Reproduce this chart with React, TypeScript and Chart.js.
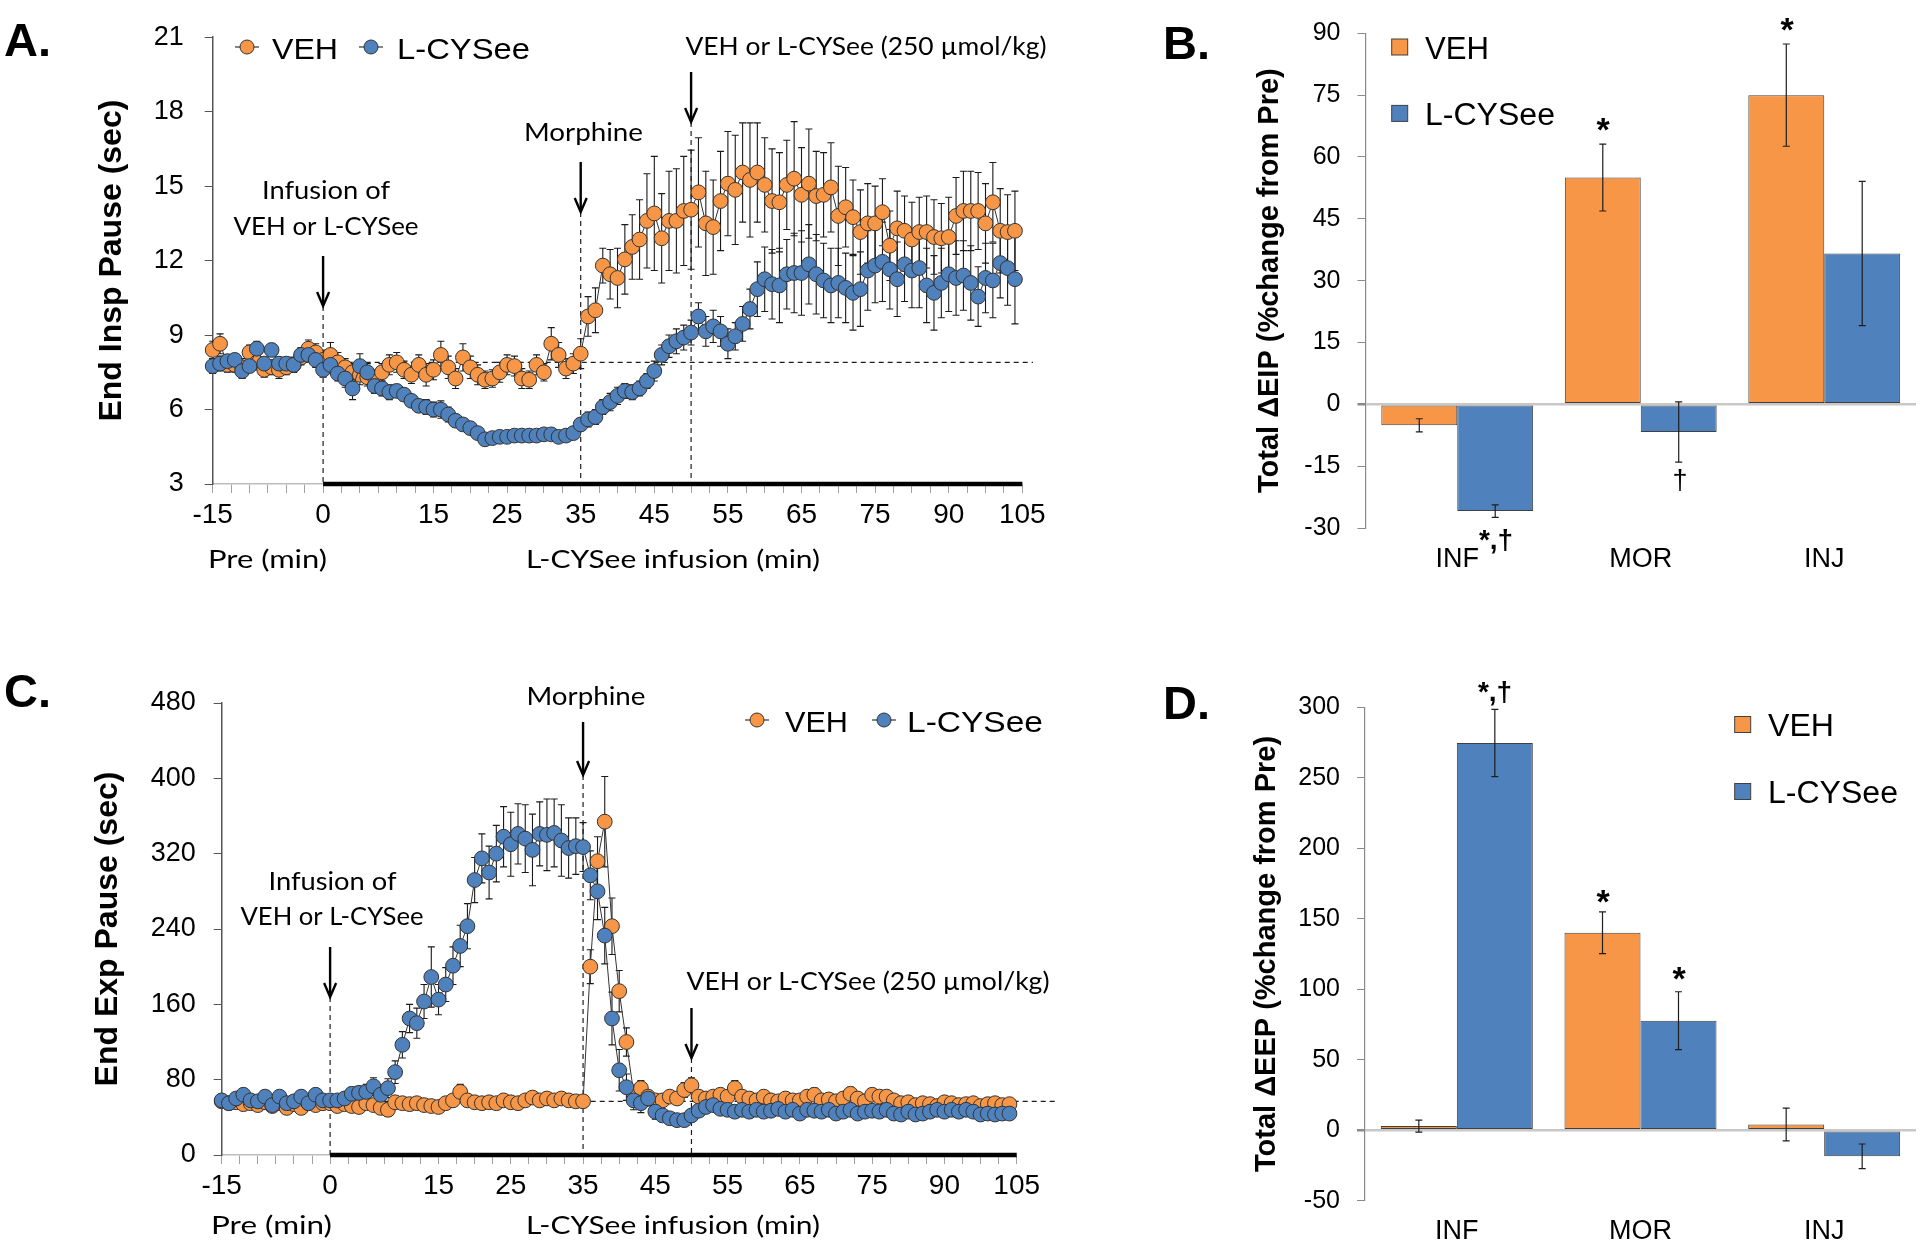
import React, { useEffect, useRef } from 'react';
import { Chart, registerables } from 'chart.js';

Chart.register(...registerables);

const ORANGE = '#F79646';
const BLUE = '#4F81BD';
const SANS = '"Liberation Sans", Arial, Helvetica, sans-serif';
const CAL = 'Lato, "Open Sans", "Liberation Sans", sans-serif';

// ---------- time-course data (panels A and C), one value per minute ----------
const MINUTES = [
  -15, -14, -13, -12, -11, -10, -9, -8, -7, -6, -5, -4, -3, -2, -1,
  0, 1, 2, 3, 4, 5, 6, 7, 8, 9,
  10, 11, 12, 13, 14, 15, 16, 17, 18, 19,
  20, 21, 22, 23, 24, 25, 26, 27, 28, 29,
  30, 31, 32, 33, 34, 35, 36, 37, 38, 39,
  40, 41, 42, 43, 44, 45, 46, 47, 48, 49,
  50, 51, 52, 53, 54, 55, 56, 57, 58, 59,
  60, 61, 62, 63, 64, 65, 66, 67, 68, 69,
  70, 71, 72, 73, 74, 75, 76, 77, 78, 79,
  80, 81, 82, 83, 84, 85, 86, 87, 88, 89,
  90, 91, 92, 93, 94,
];
const TIME_TICK_VALUES = [-15, 0, 15, 25, 35, 45, 55, 65, 75, 85, 95];
const TIME_TICK_LABELS = ['-15', '0', '15', '25', '35', '45', '55', '65', '75', '90', '105'];

// Panel A: End Insp Pause (sec)
const A_VEH = [
  8.4, 8.65, 7.8, 7.8, 7.7, 8.3, 7.9, 7.6, 7.7, 7.6, 7.7, 7.8, 8.1, 8.45, 8.3,
  8.0, 8.2, 7.9, 7.7, 7.5, 7.4, 7.3, 7.3, 7.5, 7.8,
  7.9, 7.6, 7.4, 7.8, 7.4, 7.6, 8.2, 7.7, 7.25, 8.1,
  7.7, 7.4, 7.2, 7.25, 7.5, 7.8, 7.75, 7.25, 7.2, 7.8,
  7.5, 8.65, 8.2, 7.65, 7.85, 8.25, 9.75, 10.0, 11.8, 11.45,
  11.3, 12.05, 12.55, 12.85, 13.6, 13.9, 12.9, 13.6, 13.6, 14.0,
  14.05, 14.75, 13.5, 13.35, 14.4, 15.1, 14.85, 15.55, 15.25, 15.55,
  15.05, 14.4, 14.35, 15.05, 15.3, 14.65, 15.1, 14.6, 14.65, 14.95,
  13.8, 14.15, 13.75, 13.15, 13.5, 13.5, 13.95, 12.6, 13.3, 13.2,
  12.85, 13.15, 13.15, 12.95, 12.9, 12.95, 13.8, 14.0, 14.0, 14.0,
  13.5, 14.35, 13.2, 13.15, 13.2,
];
const A_VEH_ERR = [
  0.35, 0.4, 0.3, 0.3, 0.35, 0.3, 0.3, 0.3, 0.3, 0.35, 0.3, 0.3, 0.3, 0.35, 0.35,
  0.4, 0.5, 0.4, 0.35, 0.35, 0.4, 0.35, 0.3, 0.35, 0.4,
  0.4, 0.35, 0.35, 0.4, 0.45, 0.4, 0.55, 0.45, 0.4, 0.55,
  0.45, 0.4, 0.35, 0.35, 0.4, 0.4, 0.4, 0.4, 0.35, 0.4,
  0.35, 0.65, 0.5, 0.4, 0.4, 0.6, 0.8, 0.9, 0.7, 1.0,
  1.2, 1.4, 1.3, 1.6, 1.9, 2.3, 1.8, 2.0, 2.1, 2.2,
  2.4, 2.2, 2.1, 1.9, 2.0, 2.1, 2.2, 2.0, 2.3, 2.0,
  1.9, 2.1, 2.0, 1.8, 2.3, 1.9, 2.2, 1.8, 1.7, 1.8,
  2.0, 1.6, 1.5, 1.7, 1.6, 1.5, 1.35, 1.4, 1.5, 1.4,
  1.5, 1.4, 1.45, 1.5, 1.4, 1.6, 1.55, 1.6, 1.6, 1.55,
  1.6, 1.6, 1.7, 1.5, 1.6,
];
const A_CYS = [
  7.75, 7.85, 7.95, 8.0, 7.55, 7.75, 8.45, 7.85, 8.4, 7.85, 7.85, 7.8, 8.2, 8.2, 8.0,
  7.6, 7.8, 7.45, 7.25, 6.85, 7.75, 7.5, 6.95, 6.85, 6.7,
  6.75, 6.6, 6.35, 6.15, 6.1, 6.0, 6.0, 5.8, 5.55, 5.4,
  5.25, 5.05, 4.8, 4.85, 4.9, 4.9, 4.95, 4.95, 4.95, 4.95,
  5.0, 5.0, 4.9, 4.95, 5.05, 5.4, 5.6, 5.7, 6.1, 6.3,
  6.55, 6.75, 6.7, 6.85, 7.15, 7.55, 8.2, 8.55, 8.75, 8.9,
  9.1, 9.75, 9.15, 9.35, 9.15, 8.65, 8.95, 9.45, 10.05, 10.85,
  11.25, 11.05, 11.0, 11.45, 11.5, 11.5, 11.85, 11.45, 11.2, 11.0,
  11.1, 10.9, 10.7, 10.85, 11.6, 11.8, 11.95, 11.65, 11.25, 11.85,
  11.6, 11.7, 11.0, 10.7, 11.1, 11.45, 11.3, 11.4, 11.1, 10.55,
  11.3, 11.2, 11.9, 11.7, 11.25,
];
const A_CYS_ERR = [
  0.3, 0.3, 0.25, 0.25, 0.3, 0.25, 0.3, 0.25, 0.25, 0.25, 0.25, 0.3, 0.3, 0.3, 0.3,
  0.3, 0.35, 0.3, 0.35, 0.45, 0.5, 0.35, 0.3, 0.3, 0.3,
  0.25, 0.25, 0.25, 0.25, 0.3, 0.3, 0.35, 0.3, 0.25, 0.2,
  0.2, 0.2, 0.2, 0.2, 0.2, 0.2, 0.2, 0.2, 0.2, 0.2,
  0.2, 0.2, 0.2, 0.2, 0.25, 0.25, 0.3, 0.3, 0.3, 0.35,
  0.35, 0.3, 0.3, 0.3, 0.3, 0.4, 0.4, 0.45, 0.5, 0.5,
  0.5, 0.55, 0.6, 0.65, 0.6, 0.6, 0.55, 0.7, 0.8, 1.1,
  1.3, 1.4, 1.5, 1.4, 1.6, 1.7, 1.6, 1.6, 1.5, 1.5,
  1.4, 1.4, 1.5, 1.5, 1.6, 1.5, 1.6, 1.6, 1.5, 1.5,
  1.5, 1.6, 1.5, 1.5, 1.4, 1.5, 1.5, 1.4, 1.5, 1.2,
  1.4, 1.5, 1.4, 1.5, 1.8,
];

// Panel C: End Exp Pause (sec)
const C_VEH = [
  57, 55, 56, 54, 55, 53, 56, 52, 55, 50, 54, 50, 55, 53, 55,
  55, 52, 54, 52, 51, 55, 53, 50, 48, 56,
  55, 54, 55, 53, 52, 51, 55, 58, 67, 58,
  56, 55, 56, 55, 58, 56, 55, 58, 61, 58,
  60, 58, 60, 58, 57, 57, 200, 312, 354, 243,
  174, 120, 66, 71, 62, 58, 58, 62, 60, 69,
  74, 62, 60, 62, 64, 62, 71, 62, 60, 58,
  62, 58, 57, 60, 58, 58, 62, 64, 58, 59,
  57, 60, 65, 60, 57, 64, 62, 62, 58, 55,
  56, 53, 55, 54, 52, 56, 55, 53, 54, 55,
  52, 54, 55, 53, 54,
];
const C_VEH_ERR = [
  6, 5, 5, 6, 5, 5, 6, 5, 5, 6, 5, 5, 6, 5, 5,
  5, 5, 5, 6, 5, 5, 5, 6, 7, 5,
  5, 5, 5, 5, 5, 5, 5, 6, 8, 6,
  5, 5, 5, 5, 5, 5, 5, 5, 6, 5,
  5, 5, 5, 5, 5, 5, 18, 26, 48, 30,
  22, 15, 8, 8, 6, 6, 6, 6, 6, 8,
  8, 6, 6, 6, 6, 6, 8, 6, 6, 6,
  6, 6, 5, 6, 5, 5, 6, 7, 5, 5,
  5, 5, 7, 5, 5, 6, 5, 6, 5, 5,
  5, 5, 5, 5, 5, 5, 5, 5, 5, 5,
  5, 5, 5, 5, 5,
];
const C_CYS = [
  58, 55, 60, 64, 58, 57, 62, 53, 62, 55, 57, 62, 55, 64, 58,
  58, 58, 60, 65, 66, 67, 73, 64, 71, 88,
  117, 145, 140, 163, 189, 165, 181, 201, 222, 243,
  292, 315, 300, 320, 338, 330, 341, 336, 324, 341,
  340, 342, 334, 326, 328, 327, 297, 280, 233, 145,
  90, 72, 58, 55, 60, 46, 42, 39, 37, 37,
  42, 47, 51, 53, 49, 48, 46, 48, 46, 48,
  46, 47, 49, 46, 48, 44, 48, 47, 46, 48,
  44, 46, 48, 44, 46, 47, 46, 48, 44, 43,
  46, 43, 44, 46, 48, 46, 48, 46, 48, 46,
  43, 44, 43, 44, 44,
];
const C_CYS_ERR = [
  6, 5, 6, 6, 5, 5, 6, 5, 6, 5, 5, 6, 5, 6, 6,
  6, 6, 6, 7, 7, 8, 9, 8, 10, 12,
  14, 15, 16, 18, 32, 16, 18, 20, 22, 24,
  24, 26, 28, 30, 32, 34, 32, 36, 38, 34,
  38, 36, 38, 32, 30, 26, 26, 30, 30, 28,
  22, 14, 10, 10, 8, 8, 6, 6, 6, 6,
  6, 6, 6, 6, 5, 5, 5, 5, 5, 5,
  5, 5, 5, 5, 5, 5, 5, 5, 5, 5,
  5, 5, 5, 5, 5, 5, 5, 5, 5, 5,
  5, 5, 5, 5, 5, 5, 5, 5, 5, 5,
  5, 5, 5, 5, 5,
];

// ---------- summary bar data (panels B and D) ----------
const GROUPS = ['INF', 'MOR', 'INJ'];
const B_VEH = [-5.1, 55.0, 75.0];
const B_VEH_ERR = [1.6, 8.1, 12.4];
const B_CYS = [-25.9, -6.7, 36.6];
const B_CYS_ERR = [1.5, 7.3, 17.5];
const D_VEH = [2.9, 140.0, 4.1];
const D_VEH_ERR = [4.3, 14.8, 11.6];
const D_CYS = [274.6, 77.7, -18.5];
const D_CYS_ERR = [23.8, 20.5, 8.7];

// ---------- drawing helpers ----------
function drawText(ctx: any, t: any) {
  ctx.save();
  ctx.font = `${t.weight || 'normal'} ${t.size}px ${t.family}`;
  ctx.fillStyle = '#000';
  ctx.textBaseline = 'middle';
  ctx.textAlign = t.align || 'center';
  const w = ctx.measureText(t.text).width;
  const sx = t.width ? t.width / w : 1;
  ctx.translate(t.x, t.y);
  ctx.scale(sx, 1);
  ctx.fillText(t.text, 0, 0);
  ctx.restore();
}

function drawArrow(ctx: any, x: number, top: number, tip: number) {
  ctx.save();
  ctx.strokeStyle = '#000';
  ctx.lineWidth = 2.4;
  ctx.beginPath();
  ctx.moveTo(x, top);
  ctx.lineTo(x, tip - 1);
  ctx.stroke();
  ctx.beginPath();
  ctx.moveTo(x - 6, tip - 14);
  ctx.lineTo(x, tip);
  ctx.lineTo(x + 6, tip - 14);
  ctx.stroke();
  ctx.restore();
}

function drawLineMarker(ctx: any, cx: number, cy: number, color: string) {
  ctx.save();
  ctx.strokeStyle = '#333';
  ctx.lineWidth = 1.2;
  ctx.beginPath();
  ctx.moveTo(cx - 12, cy);
  ctx.lineTo(cx + 12, cy);
  ctx.stroke();
  ctx.beginPath();
  ctx.arc(cx, cy, 7, 0, Math.PI * 2);
  ctx.fillStyle = color;
  ctx.fill();
  ctx.lineWidth = 1;
  ctx.stroke();
  ctx.restore();
}

function timePlugin(p: any) {
  return {
    id: 'timeDecor',
    beforeDatasetsDraw(chart: any) {
      const { ctx, chartArea: a, scales } = chart;
      const x = scales.x;
      const y = scales.y;
      ctx.save();
      ctx.strokeStyle = '#1e1e1e';
      ctx.lineWidth = 1.2;
      ctx.setLineDash([5, 4]);
      const by = y.getPixelForValue(p.baseline);
      ctx.beginPath();
      ctx.moveTo(a.left, by);
      ctx.lineTo(p.baselineEnd, by);
      ctx.stroke();
      p.arrows.forEach((ar: any) => {
        const px = x.getPixelForValue(ar.minute);
        ctx.beginPath();
        ctx.moveTo(px, ar.tip);
        ctx.lineTo(px, a.bottom);
        ctx.stroke();
      });
      ctx.setLineDash([]);
      ctx.lineWidth = 1.1;
      ctx.strokeStyle = '#1a1a1a';
      const series = [[p.veh, p.vehErr], [p.cys, p.cysErr]];
      series.forEach((s: any) => {
        const vals = s[0];
        const errs = s[1];
        vals.forEach((v: number, i: number) => {
          const px = x.getPixelForValue(MINUTES[i]);
          const t = y.getPixelForValue(v + errs[i]);
          const b = y.getPixelForValue(v - errs[i]);
          ctx.beginPath();
          ctx.moveTo(px, t);
          ctx.lineTo(px, b);
          ctx.moveTo(px - 3.5, t);
          ctx.lineTo(px + 3.5, t);
          ctx.moveTo(px - 3.5, b);
          ctx.lineTo(px + 3.5, b);
          ctx.stroke();
        });
      });
      ctx.restore();
    },
    afterDraw(chart: any) {
      const { ctx, chartArea: a, scales } = chart;
      const x = scales.x;
      ctx.save();
      ctx.strokeStyle = '#000';
      ctx.lineWidth = 4.5;
      ctx.beginPath();
      ctx.moveTo(x.getPixelForValue(0), a.bottom);
      ctx.lineTo(x.getPixelForValue(95), a.bottom);
      ctx.stroke();
      ctx.restore();
      p.arrows.forEach((ar: any) => drawArrow(ctx, x.getPixelForValue(ar.minute), ar.top, ar.tip));
      p.texts.forEach((t: any) => drawText(ctx, t));
      const L = p.legend;
      drawLineMarker(ctx, L.vehMarkerX, L.markerY, ORANGE);
      drawLineMarker(ctx, L.cysMarkerX, L.markerY, BLUE);
      drawText(ctx, { text: 'VEH', x: L.vehTextX, y: L.textY, size: L.size, width: L.vehTextW, family: SANS, align: 'left' });
      drawText(ctx, { text: 'L-CYSee', x: L.cysTextX, y: L.textY, size: L.size, width: L.cysTextW, family: SANS, align: 'left' });
    },
  };
}

function timeConfig(p: any): any {
  const c = p.canvas;
  const a = p.area;
  const ds = (label: string, vals: number[], color: string, order: number) => ({
    label,
    data: MINUTES.map((m, i) => ({ x: m, y: vals[i] })),
    order,
    borderColor: '#333',
    borderWidth: 1,
    pointBackgroundColor: color,
    pointBorderColor: '#333',
    pointBorderWidth: 1,
    pointRadius: 7.4,
    pointHoverRadius: 7.4,
    tension: 0,
    clip: false,
  });
  return {
    type: 'line',
    data: { datasets: [ds('VEH', p.veh, ORANGE, 2), ds('L-CYSee', p.cys, BLUE, 1)] },
    options: {
      responsive: false,
      animation: false,
      devicePixelRatio: 1,
      events: [],
      layout: { padding: { left: 0, top: a.top, right: c.width - a.right, bottom: 0 } },
      plugins: { legend: { display: false }, tooltip: { enabled: false } },
      scales: {
        x: {
          type: 'linear',
          min: -15,
          max: 95,
          afterFit: (s: any) => { s.height = c.height - a.bottom; },
          grid: { drawOnChartArea: false, tickLength: 9, tickColor: '#a0a0a0', lineWidth: 1 },
          border: { color: '#bdbdbd', width: 1.5 },
          ticks: {
            stepSize: 2.5,
            autoSkip: false,
            maxRotation: 0,
            minRotation: 0,
            padding: 5,
            color: '#000',
            font: { family: SANS, size: 28 },
            callback: (v: number) => {
              const k = TIME_TICK_VALUES.findIndex((t) => Math.abs(t - v) < 1e-6);
              return k >= 0 ? TIME_TICK_LABELS[k] : '';
            },
          },
        },
        y: {
          min: p.yMin,
          max: p.yMax,
          afterFit: (s: any) => { s.width = a.left; },
          grid: { drawOnChartArea: false, tickLength: 8, tickColor: '#555' },
          border: { color: '#555', width: 1.5 },
          ticks: { stepSize: p.yStep, padding: p.yTickPad, color: '#000', font: { family: SANS, size: 27 } },
          title: {
            display: true,
            text: p.yTitle,
            color: '#000',
            font: { family: SANS, size: 32, weight: 'bold' },
            padding: { top: p.yTitleCenterX - 19.2, bottom: 0 },
          },
        },
      },
    },
    plugins: [timePlugin(p)],
  };
}

function barPlugin(p: any) {
  return {
    id: 'barDecor',
    afterDatasetsDraw(chart: any) {
      const { ctx, scales } = chart;
      const y = scales.y;
      ctx.save();
      ctx.strokeStyle = '#1e1e1e';
      ctx.lineWidth = 1.2;
      const sets = [[0, p.veh, p.vehErr], [1, p.cys, p.cysErr]];
      sets.forEach((s: any) => {
        const meta = chart.getDatasetMeta(s[0]);
        s[1].forEach((v: number, i: number) => {
          const px = meta.data[i].x;
          const t = y.getPixelForValue(v + s[2][i]);
          const b = y.getPixelForValue(v - s[2][i]);
          ctx.beginPath();
          ctx.moveTo(px, t);
          ctx.lineTo(px, b);
          ctx.moveTo(px - 3.5, t);
          ctx.lineTo(px + 3.5, t);
          ctx.moveTo(px - 3.5, b);
          ctx.lineTo(px + 3.5, b);
          ctx.stroke();
        });
      });
      ctx.restore();
      p.marks.forEach((t: any) => drawText(ctx, t));
      const L = p.legend;
      [[ORANGE, 'VEH', L.y1, L.w1], [BLUE, 'L-CYSee', L.y2, L.w2]].forEach((it: any) => {
        ctx.save();
        ctx.fillStyle = it[0];
        ctx.strokeStyle = '#404040';
        ctx.lineWidth = 1;
        ctx.fillRect(L.sqX - 8, it[2] - 8, 16, 16);
        ctx.strokeRect(L.sqX - 8, it[2] - 8, 16, 16);
        ctx.restore();
        drawText(ctx, { text: it[1], x: L.textX, y: it[2] + L.textDy, size: 31, width: it[3], family: SANS, align: 'left' });
      });
      drawText(ctx, p.letter);
    },
  };
}

function barConfig(p: any): any {
  const c = p.canvas;
  const a = p.area;
  const ds = (label: string, vals: number[], color: string) => ({
    label,
    data: vals,
    backgroundColor: color,
    borderColor: '#404040',
    borderWidth: 1,
    borderSkipped: false,
    categoryPercentage: 0.8275,
    barPercentage: 1,
  });
  return {
    type: 'bar',
    data: { labels: GROUPS, datasets: [ds('VEH', p.veh, ORANGE), ds('L-CYSee', p.cys, BLUE)] },
    options: {
      responsive: false,
      animation: false,
      devicePixelRatio: 1,
      events: [],
      layout: { padding: { left: 0, top: a.top, right: c.width - a.right, bottom: 0 } },
      plugins: { legend: { display: false }, tooltip: { enabled: false } },
      scales: {
        x: {
          afterFit: (s: any) => { s.height = c.height - a.bottom; },
          grid: { display: false },
          border: { display: false },
          ticks: { padding: 7, color: '#000', font: { family: SANS, size: 27 } },
        },
        y: {
          min: p.yMin,
          max: p.yMax,
          afterFit: (s: any) => { s.width = a.left; },
          grid: {
            color: (cx: any) => (cx.tick && cx.tick.value === 0 ? '#c8c8c8' : 'rgba(0,0,0,0)'),
            lineWidth: (cx: any) => (cx.tick && cx.tick.value === 0 ? 2.5 : 1),
            tickColor: '#8a8a8a',
            tickLength: 8,
          },
          border: { color: '#8a8a8a', width: 1.2 },
          ticks: { stepSize: p.yStep, padding: 17, color: '#000', font: { family: SANS, size: 25 } },
          title: {
            display: true,
            text: p.yTitle,
            color: '#000',
            font: { family: SANS, size: 29, weight: 'bold' },
            padding: { top: p.yTitleCenterX - 17.4, bottom: 0 },
          },
        },
      },
    },
    plugins: [barPlugin(p)],
  };
}

// ---------- panel layouts ----------
const PANEL_A = {
  canvas: { left: 0, top: 0, width: 1070, height: 600 },
  area: { left: 212.7, right: 1022.3, top: 29, bottom: 484 },
  veh: A_VEH, vehErr: A_VEH_ERR, cys: A_CYS, cysErr: A_CYS_ERR,
  yMin: 3, yMax: 21, yStep: 3, yTickPad: 21,
  yTitle: 'End Insp Pause (sec)', yTitleCenterX: 112,
  baseline: 7.9, baselineEnd: 1033,
  arrows: [
    { minute: 0, top: 256, tip: 306 },
    { minute: 35, top: 162, tip: 212 },
    { minute: 50, top: 72, tip: 122 },
  ],
  texts: [
    { text: 'Infusion of', x: 326, y: 191, size: 25, width: 128, family: CAL },
    { text: 'VEH or L-CYSee', x: 326, y: 227, size: 25, width: 185, family: CAL },
    { text: 'Morphine', x: 583.5, y: 133, size: 25, width: 119, family: CAL },
    { text: 'VEH or L-CYSee (250 \u00b5mol/kg)', x: 866, y: 47, size: 25, width: 361, family: CAL },
    { text: 'Pre (min)', x: 208, y: 560, size: 25, width: 119, family: CAL, align: 'left' },
    { text: 'L-CYSee infusion (min)', x: 673, y: 560, size: 25, width: 294, family: CAL },
    { text: 'A.', x: 4, y: 43, size: 47, family: SANS, weight: 'bold', align: 'left' },
  ],
  legend: { markerY: 47, textY: 51, size: 30, vehMarkerX: 247, vehTextX: 272, vehTextW: 66, cysMarkerX: 371, cysTextX: 397, cysTextW: 133 },
};

const PANEL_C = {
  canvas: { left: 0, top: 640, width: 1070, height: 609 },
  area: { left: 221.7, right: 1016.7, top: 63, bottom: 515 },
  veh: C_VEH, vehErr: C_VEH_ERR, cys: C_CYS, cysErr: C_CYS_ERR,
  yMin: 0, yMax: 480, yStep: 80, yTickPad: 18,
  yTitle: 'End Exp Pause (sec)', yTitleCenterX: 108,
  baseline: 57, baselineEnd: 1057,
  arrows: [
    { minute: 0, top: 307, tip: 357 },
    { minute: 35, top: 82, tip: 135 },
    { minute: 50, top: 368, tip: 418 },
  ],
  texts: [
    { text: 'Morphine', x: 586, y: 57, size: 25, width: 119, family: CAL },
    { text: 'Infusion of', x: 332.5, y: 242, size: 25, width: 128, family: CAL },
    { text: 'VEH or L-CYSee', x: 332, y: 277, size: 25, width: 183, family: CAL },
    { text: 'VEH or L-CYSee (250 \u00b5mol/kg)', x: 868, y: 342, size: 25, width: 363, family: CAL },
    { text: 'Pre (min)', x: 211, y: 586, size: 25, width: 121, family: CAL, align: 'left' },
    { text: 'L-CYSee infusion (min)', x: 673, y: 586, size: 25, width: 294, family: CAL },
    { text: 'C.', x: 4, y: 54, size: 47, family: SANS, weight: 'bold', align: 'left' },
  ],
  legend: { markerY: 80, textY: 84, size: 30, vehMarkerX: 757, vehTextX: 785, vehTextW: 63, cysMarkerX: 884, cysTextX: 907, cysTextW: 136 },
};

const PANEL_B = {
  canvas: { left: 1150, top: 0, width: 770, height: 600 },
  area: { left: 215.5, right: 766, top: 33.3, bottom: 528 },
  veh: B_VEH, vehErr: B_VEH_ERR, cys: B_CYS, cysErr: B_CYS_ERR,
  yMin: -30, yMax: 90, yStep: 15,
  yTitle: 'Total \u0394EIP (%change from Pre)', yTitleCenterX: 119.7,
  marks: [
    { text: '*', x: 453, y: 132, size: 34, family: SANS, weight: 'bold' },
    { text: '*', x: 637, y: 32, size: 34, family: SANS, weight: 'bold' },
    { text: '\u2020', x: 530, y: 482, size: 27, family: SANS },
    { text: '*,\u2020', x: 346, y: 541, size: 28, family: SANS, weight: 'bold' },
  ],
  legend: { sqX: 249.7, y1: 47, y2: 113.4, textX: 275, textDy: 3, w1: 64, w2: 130 },
  letter: { text: 'B.', x: 13, y: 46, size: 47, family: SANS, weight: 'bold', align: 'left' },
};

const PANEL_D = {
  canvas: { left: 1150, top: 640, width: 770, height: 609 },
  area: { left: 215, right: 766, top: 67.2, bottom: 560.7 },
  veh: D_VEH, vehErr: D_VEH_ERR, cys: D_CYS, cysErr: D_CYS_ERR,
  yMin: -50, yMax: 300, yStep: 50,
  yTitle: 'Total \u0394EEP (%change from Pre)', yTitleCenterX: 117,
  marks: [
    { text: '*,\u2020', x: 345, y: 53, size: 28, family: SANS, weight: 'bold' },
    { text: '*', x: 453, y: 264, size: 34, family: SANS, weight: 'bold' },
    { text: '*', x: 529, y: 341, size: 34, family: SANS, weight: 'bold' },
  ],
  legend: { sqX: 592.7, y1: 84.5, y2: 151.5, textX: 618, textDy: 2.5, w1: 66, w2: 130 },
  letter: { text: 'D.', x: 13, y: 66, size: 47, family: SANS, weight: 'bold', align: 'left' },
};

function ChartBox({ panel, make }: any) {
  const ref = useRef<HTMLCanvasElement>(null);
  useEffect(() => {
    const chart = new Chart(ref.current as HTMLCanvasElement, make(panel));
    return () => chart.destroy();
  }, []);
  const c = panel.canvas;
  return (
    <canvas
      ref={ref}
      width={c.width}
      height={c.height}
      style={{ position: 'absolute', left: c.left, top: c.top, width: c.width, height: c.height }}
    />
  );
}

export default function App() {
  return (
    <div style={{ position: 'absolute', left: 0, top: 0, width: 1920, height: 1249, background: '#fff', overflow: 'hidden' }}>
      <ChartBox panel={PANEL_A} make={timeConfig} />
      <ChartBox panel={PANEL_B} make={barConfig} />
      <ChartBox panel={PANEL_C} make={timeConfig} />
      <ChartBox panel={PANEL_D} make={barConfig} />
    </div>
  );
}
